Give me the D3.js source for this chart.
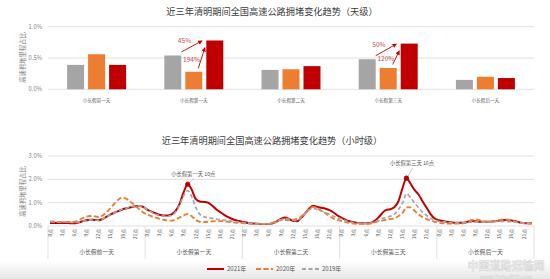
<!DOCTYPE html>
<html>
<head>
<meta charset="utf-8">
<script src="https://cdn.jsdelivr.net/npm/d3@7"></script>
<style>
body { margin: 0; background: #fff; }
svg { font-family: "Noto Sans CJK SC", "Noto Sans", sans-serif; display: block; }
</style>
</head>
<body>
<div id="chart"></div>
<script>
// categories / series
const days = ["小长假前一天", "小长假第一天", "小长假第二天", "小长假第三天", "小长假后一天"]
const years = ["2019年", "2020年", "2021年"]
const daily2019 = [0.39, 0.54, 0.31, 0.48, 0.15]
const daily2020 = [0.56, 0.28, 0.32, 0.34, 0.20]
const daily2021 = [0.39, 0.78, 0.37, 0.73, 0.18]
const dailyTicks = [0, 0.5, 1.0]
const hourlyTicks = [0, 1, 2, 3]
const hourTicks = [0, 3, 6, 9, 12, 15, 18, 21]

// hourly values, one row per day (0点..23点)
const hourly2021 = [
  0.13,0.13,0.13,0.13,0.13,0.12,0.12,0.15,0.20,0.25,0.27,0.26,0.25,0.30,0.40,0.50,0.58,0.65,0.72,0.76,0.80,0.85,0.86,0.82,
  0.70,0.62,0.55,0.48,0.45,0.45,0.50,0.65,0.95,1.45,1.79,1.55,1.15,1.05,1.03,1.00,0.88,0.72,0.60,0.48,0.38,0.30,0.24,0.20,
  0.16,0.13,0.11,0.10,0.09,0.09,0.09,0.12,0.20,0.30,0.36,0.30,0.22,0.20,0.35,0.55,0.75,0.87,0.82,0.78,0.74,0.68,0.58,0.45,
  0.35,0.26,0.20,0.16,0.13,0.12,0.12,0.13,0.20,0.35,0.55,0.69,0.72,0.80,1.05,1.60,2.05,1.82,1.55,1.35,1.05,0.78,0.50,0.32,
  0.25,0.21,0.18,0.16,0.14,0.14,0.14,0.17,0.22,0.20,0.18,0.18,0.18,0.19,0.21,0.23,0.26,0.26,0.23,0.20,0.15,0.13,0.12,0.12
]
const hourly2020 = [
  0.18,0.18,0.17,0.17,0.17,0.17,0.18,0.25,0.33,0.40,0.43,0.42,0.38,0.45,0.60,0.78,0.98,1.15,1.22,1.15,1.02,0.88,0.72,0.58,
  0.50,0.42,0.36,0.31,0.27,0.24,0.23,0.28,0.36,0.45,0.52,0.42,0.26,0.18,0.17,0.18,0.20,0.21,0.21,0.20,0.18,0.16,0.14,0.13,
  0.12,0.11,0.10,0.09,0.09,0.09,0.10,0.14,0.22,0.27,0.26,0.25,0.27,0.30,0.40,0.55,0.72,0.82,0.75,0.65,0.55,0.42,0.32,0.26,
  0.22,0.17,0.13,0.10,0.09,0.09,0.09,0.10,0.15,0.20,0.23,0.27,0.30,0.33,0.42,0.55,0.80,0.80,0.65,0.50,0.38,0.30,0.23,0.18,
  0.14,0.12,0.11,0.10,0.10,0.10,0.12,0.18,0.25,0.28,0.25,0.20,0.18,0.20,0.22,0.26,0.28,0.27,0.24,0.18,0.14,0.12,0.11,0.10
]
const hourly2019 = [
  0.20,0.19,0.18,0.18,0.17,0.16,0.15,0.17,0.20,0.24,0.26,0.25,0.24,0.30,0.40,0.50,0.58,0.65,0.72,0.77,0.82,0.86,0.86,0.82,
  0.70,0.60,0.50,0.45,0.42,0.42,0.45,0.60,0.90,1.30,1.52,1.25,0.80,0.50,0.40,0.36,0.33,0.30,0.27,0.25,0.22,0.20,0.18,0.16,
  0.14,0.12,0.10,0.09,0.09,0.09,0.09,0.11,0.17,0.24,0.32,0.30,0.25,0.23,0.35,0.55,0.70,0.76,0.70,0.64,0.58,0.50,0.42,0.35,
  0.30,0.22,0.17,0.14,0.12,0.11,0.11,0.12,0.18,0.22,0.32,0.37,0.42,0.50,0.70,0.97,1.38,1.22,1.00,0.78,0.60,0.45,0.33,0.25,
  0.20,0.18,0.16,0.15,0.14,0.14,0.14,0.15,0.17,0.18,0.18,0.17,0.17,0.18,0.19,0.20,0.20,0.19,0.18,0.16,0.14,0.13,0.12,0.12
]

const growth = [
  {day: "小长假第一天", from: "2019年", text: "45%"},
  {day: "小长假第一天", from: "2020年", text: "194%"},
  {day: "小长假第三天", from: "2019年", text: "50%"},
  {day: "小长假第三天", from: "2020年", text: "120%"}
]
const peaks = [
  {index: 34, text: "小长假第一天 10点"},
  {index: 88, text: "小长假第三天 16点"}
]

const colors = {"2019年": "#A5A5A5", "2020年": "#ED7D31", "2021年": "#C00000"}
const textColor = "#595959"
const gridColor = "#D9D9D9"

const width = 550, height = 279
const svg = d3.select("#chart").append("svg")
    .attr("width", width)
    .attr("height", height)

// bottom shading + watermark
const defs = svg.append("defs")
const grad = defs.append("linearGradient").attr("id", "shade")
    .attr("x1", 0).attr("x2", 0).attr("y1", 0).attr("y2", 1)
grad.append("stop").attr("offset", "0%").attr("stop-color", "#fff")
grad.append("stop").attr("offset", "100%").attr("stop-color", "#e6e6e6")
svg.append("rect").attr("x", 0).attr("y", 261).attr("width", width).attr("height", 18)
    .attr("fill", "url(#shade)")

defs.append("marker").attr("id", "arrow")
    .attr("viewBox", "0 0 10 10").attr("refX", 8).attr("refY", 5)
    .attr("markerWidth", 5).attr("markerHeight", 5).attr("orient", "auto")
    .append("path").attr("d", "M0,0 L10,5 L0,10 z").attr("fill", "#C00000")

// ---------- Tageswerte (Balken) ----------
const dayArea = {left: 48, right: 534, y0: 89.3, y1: 26.7}
const byYear = {"2019年": daily2019, "2020年": daily2020, "2021年": daily2021}

const x0 = d3.scaleBand().domain(days).range([dayArea.left, dayArea.right])
const x1 = d3.scaleBand().domain(years).range([0, x0.bandwidth()])
    .paddingInner(0.19).paddingOuter(0.91)
const yD = d3.scaleLinear().domain([0, 1]).range([dayArea.y0, dayArea.y1])

svg.append("text")
    .attr("x", 272).attr("y", 15)
    .attr("text-anchor", "middle")
    .attr("font-size", 9.2).attr("fill", "#404040")
    .text("近三年清明期间全国高速公路拥堵变化趋势（天级）")

const gTop = svg.append("g")
gTop.selectAll(".grid").data(dailyTicks).enter().append("line")
    .attr("x1", dayArea.left).attr("x2", dayArea.right)
    .attr("y1", d => yD(d)).attr("y2", d => yD(d))
    .attr("stroke", gridColor).attr("stroke-width", 0.8)

gTop.selectAll(".ylab").data(dailyTicks).enter().append("text")
    .attr("x", 42).attr("y", d => yD(d))
    .attr("dy", "0.35em").attr("text-anchor", "end")
    .attr("font-size", 5.8).attr("fill", "#7F7F7F")
    .text(d => d.toFixed(1) + "%")

gTop.append("text")
    .attr("transform", "translate(23,57.5) rotate(-90)")
    .attr("text-anchor", "middle").attr("dy", "0.35em")
    .attr("font-size", 6.3).attr("fill", "#7F7F7F")
    .text("高速拥堵里程占比")

years.forEach(function (yr) {
    gTop.selectAll(".bar" + yr).data(days).enter().append("rect")
        .attr("x", d => x0(d) + x1(yr))
        .attr("y", (d, i) => yD(byYear[yr][i]))
        .attr("width", x1.bandwidth())
        .attr("height", (d, i) => yD(0) - yD(byYear[yr][i]))
        .attr("fill", colors[yr])
})

gTop.selectAll(".xlab").data(days).enter().append("text")
    .attr("x", d => x0(d) + x0.bandwidth() / 2).attr("y", 101.5)
    .attr("text-anchor", "middle")
    .attr("font-size", 4.6).attr("fill", textColor)
    .text(d => d)

// Wachstums-Pfeile
growth.forEach(function (g) {
    const i = days.indexOf(g.day)
    const v = byYear[g.from][i], v21 = byYear["2021年"][i]
    const xr = x0(g.day) + x1(g.from) + x1.bandwidth()
    const x21 = x0(g.day) + x1("2021年")
    let s, e
    if (g.from === "2019年") {
        s = [xr, yD(v) - 3.5]; e = [x21 - 4.5, yD(v21) + 0.5]
    } else {
        s = [xr - 4, yD(v) - 3.5]; e = [x21 - 1.5, yD(v21) + 7.5]
    }
    gTop.append("line")
        .attr("x1", s[0]).attr("y1", s[1]).attr("x2", e[0]).attr("y2", e[1])
        .attr("stroke", "#C00000").attr("stroke-width", 0.9)
        .attr("marker-end", "url(#arrow)")
    const mx = (s[0] + e[0]) / 2, my = (s[1] + e[1]) / 2
    gTop.append("text")
        .attr("x", g.from === "2019年" ? mx - 7 : mx - 1.5)
        .attr("y", g.from === "2019年" ? my - 5.5 : my + 1.2)
        .attr("dy", "0.35em")
        .attr("text-anchor", g.from === "2019年" ? "middle" : "end")
        .attr("font-size", 6.6).attr("fill", "#C0504D")
        .text(g.text)
})

// ---------- Stundenwerte (Linien) ----------
const hourArea = {left: 48, right: 534, y0: 226, y1: 156}
const n = hourly2021.length
const xH = d3.scaleLinear().domain([0, n]).range([hourArea.left, hourArea.right])
const yH = d3.scaleLinear().domain([0, 3]).range([hourArea.y0, hourArea.y1])

svg.append("text")
    .attr("x", 272).attr("y", 143.5)
    .attr("text-anchor", "middle")
    .attr("font-size", 9.2).attr("fill", "#404040")
    .text("近三年清明期间全国高速公路拥堵变化趋势（小时级）")

const gBot = svg.append("g")
gBot.selectAll(".grid").data(hourlyTicks).enter().append("line")
    .attr("x1", hourArea.left).attr("x2", hourArea.right)
    .attr("y1", d => yH(d)).attr("y2", d => yH(d))
    .attr("stroke", gridColor).attr("stroke-width", 0.8)

gBot.selectAll(".ylab").data(hourlyTicks).enter().append("text")
    .attr("x", 42).attr("y", d => yH(d))
    .attr("dy", "0.35em").attr("text-anchor", "end")
    .attr("font-size", 5.8).attr("fill", "#7F7F7F")
    .text(d => d.toFixed(1) + "%")

gBot.append("text")
    .attr("transform", "translate(23,191.5) rotate(-90)")
    .attr("text-anchor", "middle").attr("dy", "0.35em")
    .attr("font-size", 6.3).attr("fill", "#7F7F7F")
    .text("高速拥堵里程占比")

// Tagesgrenzen + Beschriftung
const bounds = d3.range(days.length + 1).map(i => i * 24)
gBot.selectAll(".sep").data(bounds).enter().append("line")
    .attr("x1", d => xH(d)).attr("x2", d => xH(d))
    .attr("y1", hourArea.y0).attr("y2", 259)
    .attr("stroke", gridColor).attr("stroke-width", 0.8)

const hourLabels = []
days.forEach((d, i) => hourTicks.forEach(h => hourLabels.push({i: i * 24 + h, t: h + "点"})))
gBot.selectAll(".hlab").data(hourLabels).enter().append("text")
    .attr("transform", d => "translate(" + xH(d.i + 0.5) + ",229) rotate(-90)")
    .attr("dy", "0.35em").attr("text-anchor", "end")
    .attr("font-size", 4.8).attr("fill", textColor)
    .text(d => d.t)

gBot.selectAll(".dlab").data(days).enter().append("text")
    .attr("x", (d, i) => xH(i * 24 + 12)).attr("y", 254)
    .attr("text-anchor", "middle")
    .attr("font-size", 5.8).attr("fill", textColor)
    .text(d => d)

const line = d3.line()
    .x((d, i) => xH(i + 0.5))
    .y(d => yH(d))
    .curve(d3.curveMonotoneX)

const series = [
    {name: "2021年", values: hourly2021, dash: null, w: 2},
    {name: "2020年", values: hourly2020, dash: "5,2.5", w: 1.9},
    {name: "2019年", values: hourly2019, dash: "4,2.5", w: 1.7}
]
series.forEach(function (s) {
    gBot.append("path")
        .attr("d", line(s.values))
        .attr("fill", "none")
        .attr("stroke", colors[s.name])
        .attr("stroke-width", s.w)
        .attr("stroke-dasharray", s.dash)
})

// Spitzen markieren
peaks.forEach(function (p, k) {
    const px = xH(p.index + 0.5), py = yH(hourly2021[p.index])
    const ty = k === 0 ? py - 8.5 : py - 13
    gBot.append("line")
        .attr("x1", px + 1.5).attr("y1", py - 1.5)
        .attr("x2", px + 6).attr("y2", ty + 3)
        .attr("stroke", "#A6A6A6").attr("stroke-width", 0.6)
    gBot.append("circle")
        .attr("cx", px).attr("cy", py).attr("r", 2.3)
        .attr("fill", "#C00000").attr("stroke", "#8B0000").attr("stroke-width", 0.6)
    gBot.append("text")
        .attr("x", px - 16.5).attr("y", ty)
        .attr("font-size", 5.3).attr("fill", textColor)
        .text(p.text)
})

// Legende
const legend = [
    {name: "2021年", x: 207, dash: null},
    {name: "2020年", x: 256, dash: "5,2.5"},
    {name: "2019年", x: 302, dash: "4,2.5"}
]
const gLeg = svg.append("g")
legend.forEach(function (l) {
    gLeg.append("line")
        .attr("x1", l.x).attr("x2", l.x + 17).attr("y1", 269).attr("y2", 269)
        .attr("stroke", colors[l.name]).attr("stroke-width", 2)
        .attr("stroke-dasharray", l.dash)
    gLeg.append("text")
        .attr("x", l.x + 20).attr("y", 269).attr("dy", "0.35em")
        .attr("font-size", 6).attr("fill", textColor)
        .text(l.name)
})

// Wasserzeichen
svg.append("text")
    .attr("x", 506).attr("y", 269.5).attr("text-anchor", "middle")
    .attr("font-size", 11).attr("font-weight", "bold")
    .attr("fill", "#f3f3f3").attr("stroke", "#d2d2d2").attr("stroke-width", 0.5)
    .text("中国道路运输网")
svg.append("text")
    .attr("x", 506).attr("y", 278.5).attr("text-anchor", "middle")
    .attr("font-size", 5.3).attr("font-weight", "bold")
    .attr("fill", "#f3f3f3").attr("stroke", "#d6d6d6").attr("stroke-width", 0.4)
    .text("www.ChinaRTA.com")
</script>
</body>
</html>
